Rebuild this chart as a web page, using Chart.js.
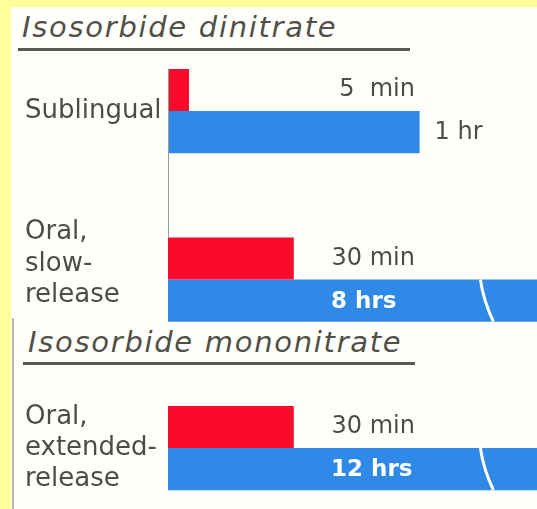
<!DOCTYPE html>
<html>
<head>
<meta charset="utf-8">
<script src="https://cdn.jsdelivr.net/npm/chart.js@4"></script>
<style>
  html, body { margin: 0; padding: 0; }
  body { width: 537px; height: 509px; background: #ffff99; position: relative; overflow: hidden; }
  .panel { position: absolute; left: 11px; top: 7px; right: 0; bottom: 0; background: #fffffc; }
  .edge { position: absolute; left: 12px; top: 318px; width: 2px; bottom: 0; background: #b8b8b0; }
  .title { position: absolute; font-family: "DejaVu Sans", sans-serif; font-style: italic; font-size: 29px;
           letter-spacing: 1.7px; color: #505048; white-space: nowrap; line-height: 1; }
  .rule { position: absolute; height: 3px; background: #5a5a52; }
  .wrap { position: absolute; left: 0; top: 0; width: 537px; height: 509px; }
</style>
</head>
<body>
<div class="panel"></div>
<div class="edge"></div>
<div class="title" id="t1" style="left:22px; top:13px;"></div>
<div class="rule" style="left:18px; top:48px; width:392px;"></div>
<div class="title" id="t2" style="left:28px; top:328px;"></div>
<div class="rule" style="left:23px; top:362px; width:392px;"></div>
<div class="wrap"><canvas id="nitrate-chart"></canvas></div>
<script>
const drugs = ["Isosorbide dinitrate", "Isosorbide mononitrate"];
const routes = [["Sublingual"], ["Oral,", "slow-", "release", ""], ["Oral,", "extended-", "release"]];
const onsetMinutes = [5, 30, 30];
const durationMinutes = [60, 480, 720];
const onsetLabels = ["5  min", "30 min", "30 min"];
const durationLabels = ["1 hr", "8 hrs", "12 hrs"];

document.getElementById("t1").textContent = drugs[0];
document.getElementById("t2").textContent = drugs[1];

// writes the onset / duration text, the axis stub and the break marks
const barText = {
  id: "barText",
  afterDatasetsDraw(chart) {
    const ctx = chart.ctx;
    const area = chart.chartArea;
    const xScale = chart.scales.x;
    const red = chart.getDatasetMeta(0).data;
    const blue = chart.getDatasetMeta(1).data;

    ctx.save();
    // thin axis line between the first two rows
    ctx.strokeStyle = "#9a9a9a";
    ctx.lineWidth = 1;
    ctx.beginPath();
    ctx.moveTo(area.left + 0.5, red[0].y - red[0].height / 2);
    ctx.lineTo(area.left + 0.5, red[1].y - red[1].height / 2);
    ctx.stroke();

    ctx.textBaseline = "middle";
    red.forEach((bar, i) => {
      ctx.font = "24px 'DejaVu Sans'";
      ctx.fillStyle = "#4d4d48";
      ctx.textAlign = "right";
      ctx.fillText(onsetLabels[i], area.left + 247, bar.y);
    });

    blue.forEach((bar, i) => {
      const top = bar.y - bar.height / 2;
      const bottom = bar.y + bar.height / 2;
      if (durationMinutes[i] > xScale.max) {
        ctx.font = "bold 23px 'DejaVu Sans'";
        ctx.fillStyle = "#ffffff";
        ctx.textAlign = "left";
        ctx.fillText(durationLabels[i], area.left + 163, bar.y + 1);
        // break mark
        const bx = xScale.getPixelForValue(74.5);
        ctx.strokeStyle = "#ffffff";
        ctx.lineWidth = 3;
        ctx.beginPath();
        ctx.moveTo(bx, top);
        ctx.quadraticCurveTo(bx + 3, bar.y, bx + 13, bottom);
        ctx.stroke();
      } else {
        ctx.font = "24px 'DejaVu Sans'";
        ctx.fillStyle = "#4d4d48";
        ctx.textAlign = "left";
        ctx.fillText(durationLabels[i], bar.x + 15, bar.y + 1);
      }
    });
    ctx.restore();
  }
};

const data = {
  labels: routes,
  datasets: [
    {
      label: "Onset",
      data: onsetMinutes,
      backgroundColor: "#fa0a2c",
      categoryPercentage: 0.5,
      barPercentage: 1,
      clip: false,
    },
    {
      label: "Duration",
      data: durationMinutes,
      backgroundColor: "#2e8ae6",
      categoryPercentage: 0.5,
      barPercentage: 1,
      clip: { left: 0, right: 0, top: false, bottom: false },
    },
  ],
};

const config = {
  type: "bar",
  data: data,
  options: {
    indexAxis: "y",
    responsive: true,
    maintainAspectRatio: false,
    animation: false,
    layout: { padding: { left: 25, top: 111, right: 0, bottom: 61 } },
    scales: {
      x: {
        display: false,
        min: 0,
        max: 88,
      },
      y: {
        offset: false,
        grid: { display: false },
        border: { display: false },
        ticks: {
          crossAlign: "far",
          color: "#4d4d48",
          font: { family: "DejaVu Sans", size: 26, lineHeight: 1.2 },
        },
        afterFit(scale) {
          scale.width = 143;
        },
      },
    },
    plugins: {
      legend: { display: false },
      tooltip: { enabled: false },
    },
  },
  plugins: [barText],
};

let myChart = new Chart(document.getElementById("nitrate-chart"), config);
</script>
</body>
</html>
